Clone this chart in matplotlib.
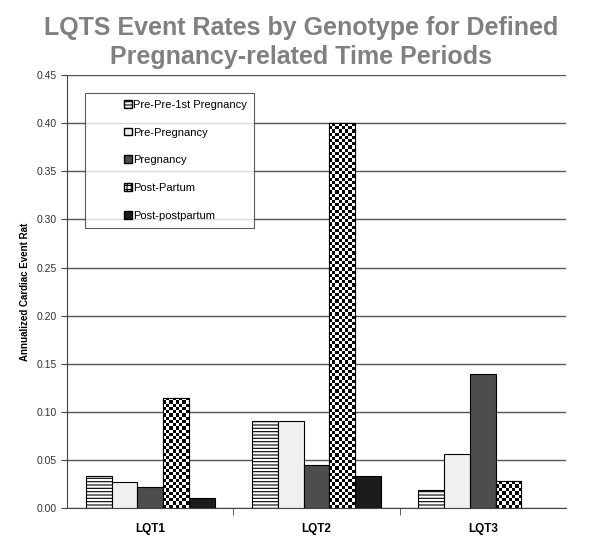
import numpy as np
import matplotlib
matplotlib.use('Agg')
import matplotlib.pyplot as plt
from matplotlib.patches import Patch, Rectangle
from matplotlib.legend_handler import HandlerPatch

plt.rcParams['font.family'] = ['Liberation Sans', 'DejaVu Sans']

genotypes = ['LQT1', 'LQT2', 'LQT3']
periods = ['Pre-Pre-1st Pregnancy', 'Pre-Pregnancy', 'Pregnancy',
           'Post-Partum', 'Post-postpartum']
pre_pre = [0.0335, 0.090, 0.0188]
pre_preg = [0.0268, 0.091, 0.0560]
pregnancy = [0.0222, 0.0450, 0.1390]
post_partum = [0.1145, 0.400, 0.0278]
post_post = [0.0101, 0.0335, np.nan]
yticks = [0.00, 0.05, 0.10, 0.15, 0.20, 0.25, 0.30, 0.35, 0.40, 0.45]

series = [pre_pre, pre_preg, pregnancy, post_partum, post_post]
styles = [dict(color='white', hatch='-----'),
          dict(color='#f0f0f0', hatch=None),
          dict(color='#4d4d4d', hatch=None),
          dict(color='white', hatch=None),   # checker drawn over it
          dict(color='#1c1c1c', hatch=None)]

fig = plt.figure(figsize=(6, 5.44), dpi=100)
ax = fig.add_axes([0.112, 0.066, 0.831, 0.796])

x = np.arange(len(genotypes))
w = 0.155
plt.rcParams['hatch.linewidth'] = 0.8

for i, (vals, st) in enumerate(zip(series, styles)):
    xs = x + (i - 2) * w
    bars = ax.bar(xs, vals, w, color=st['color'], hatch=st['hatch'],
                  edgecolor='black', linewidth=0.8, zorder=3)
    if i == 3:
        # checkerboard fill for Post-Partum
        for b in bars:
            h = b.get_height()
            x0 = b.get_x()
            cell = 0.45 / 432 * 3.2
            ny = max(int(round(h / cell)), 1)
            nx = 8
            pat = (np.indices((ny, nx)).sum(axis=0) % 2).astype(float)
            im = ax.imshow(pat, cmap='gray', interpolation='nearest',
                           extent=[x0, x0 + w, 0, h], origin='lower',
                           aspect='auto', zorder=3.5)
            im.set_clip_path(b)
            edge = Rectangle((x0, 0), w, h, fill=False, edgecolor='black',
                             linewidth=0.8, zorder=4)
            ax.add_patch(edge)

ax.set_xlim(-0.5, 2.5)
ax.set_ylim(0, 0.45)
ax.set_yticks(yticks)
ax.set_yticklabels(['%.2f' % v for v in yticks], fontsize=7.5, color='#333333')
ax.yaxis.grid(True, color='#555555', linewidth=1.0, zorder=0)
ax.set_axisbelow(True)

ax.set_xticks(x)
ax.set_xticklabels(genotypes, fontsize=8.5, fontweight='bold')
ax.tick_params(axis='x', length=0, pad=11)
ax.set_xticks([0.5, 1.5], minor=True)
ax.tick_params(axis='x', which='minor', length=5, direction='out', color='#444444')
ax.tick_params(axis='y', length=4, direction='out', color='#444444')

for s in ['top', 'right']:
    ax.spines[s].set_visible(False)
ax.spines['left'].set_color('#444444')
ax.spines['bottom'].set_color('#444444')

ax.set_ylabel('Annualized Cardiac Event Rat', fontsize=7, fontweight='bold', labelpad=5)

fig.text(0.502, 0.922, 'LQTS Event Rates by Genotype for Defined\nPregnancy-related Time Periods',
         ha='center', va='center', fontsize=18, fontweight='bold', color='#808080',
         linespacing=1.3)


def square_patch(legend, orig_handle, xdescent, ydescent, width, height, fontsize):
    s = height * 1.1
    return Rectangle((-xdescent + width - s, -ydescent), s, s)


handles = [Patch(facecolor='white', edgecolor='black', hatch='-----'),
           Patch(facecolor='#f0f0f0', edgecolor='black'),
           Patch(facecolor='#4d4d4d', edgecolor='black'),
           Patch(facecolor='white', edgecolor='black', hatch='++++'),
           Patch(facecolor='#1c1c1c', edgecolor='black')]
leg = ax.legend(handles, periods, loc='upper left', bbox_to_anchor=(0.036, 0.958),
                fontsize=8, frameon=True, fancybox=False, borderpad=0.6,
                labelspacing=1.6, handlelength=3.6, handleheight=0.6,
                handletextpad=0.15, borderaxespad=0,
                handler_map={Patch: HandlerPatch(patch_func=square_patch)})
leg.get_frame().set_edgecolor('#333333')
leg.get_frame().set_linewidth(0.8)
leg.set_zorder(10)

fig.savefig('out.png', dpi=100)
